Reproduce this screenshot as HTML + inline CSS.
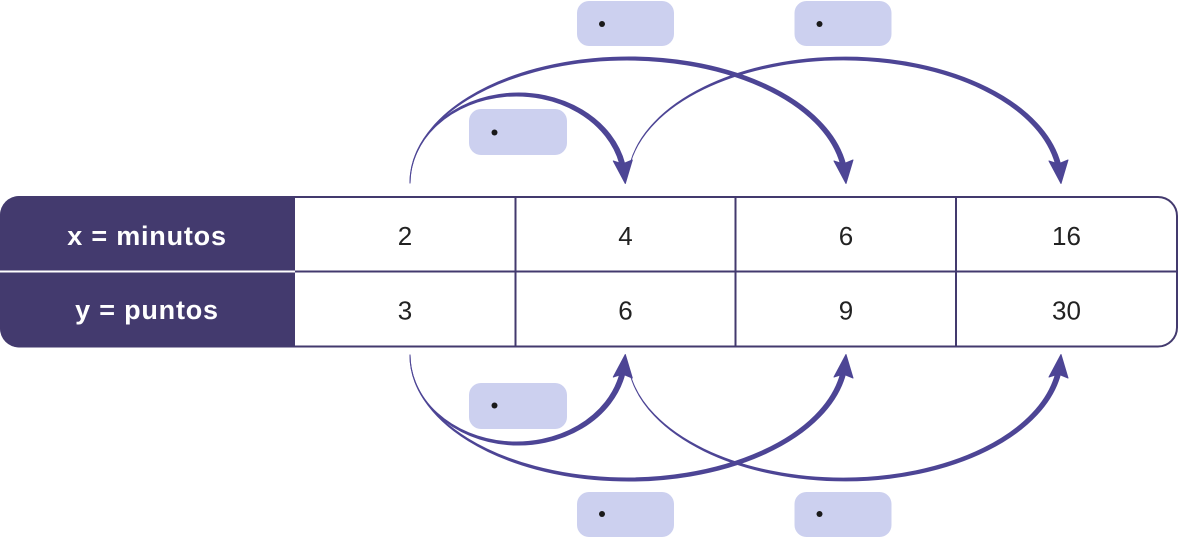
<!DOCTYPE html>
<html>
<head>
<meta charset="utf-8">
<style>
  html,body{margin:0;padding:0;background:#fff;}
  svg{display:block;}
  .hd{font-family:"Liberation Sans",sans-serif;font-weight:bold;font-size:27px;fill:#fff;letter-spacing:0.8px;}
  .num{font-family:"Liberation Sans",sans-serif;font-size:26px;fill:#222;}
</style>
</head>
<body>
<svg width="1178" height="539" viewBox="0 0 1178 539" xmlns="http://www.w3.org/2000/svg">
  <defs>
    <g id="top">
      <!-- label boxes -->
      <rect x="577" y="1" width="97" height="45" rx="12" fill="#ccd0ef"/>
      <rect x="794.5" y="1" width="97" height="45" rx="12" fill="#ccd0ef"/>
      <rect x="469" y="109" width="98" height="46" rx="12" fill="#ccd0ef"/>
      <circle cx="602" cy="24" r="3" fill="#1a1a1a"/>
      <circle cx="819.5" cy="24" r="3" fill="#1a1a1a"/>
      <circle cx="494.5" cy="132.5" r="3" fill="#1a1a1a"/>
      <g fill="#4d4595" stroke="#4d4595" stroke-width="1" stroke-linejoin="round">
        <!-- arrow C (4 -> 16) -->
        <path d="M630.3,163 A217.75,126 0 0 1 1060.5,164 L1055.5,164 A215.29,123 0 0 0 630.3,163 Z"/>
        <path d="M1061,183.5 L1049,161 L1058.3,164 L1068,160 Z"/>
        <!-- arrow B (2 -> 6) -->
        <path d="M410,183 A219,126 0 0 1 845.5,164 L840.5,164 A216.55,123 0 0 0 410,183 Z"/>
        <path d="M846,183.5 L834,161 L843.3,164 L853,160 Z"/>
        <!-- arrow A (2 -> 4) -->
        <path d="M410,183 A108.62,90 0 0 1 624.8,164 L619.8,164 A106.18,87 0 0 0 410,183 Z"/>
        <path d="M625.3,183.5 L613.3,161 L622.6,164 L632.3,160 Z"/>
      </g>
    </g>
  </defs>

  <use href="#top"/>
  <use href="#top" transform="matrix(1 0 0 -1 0 538)"/>

  <!-- table -->
  <rect x="1" y="197" width="1176" height="149.5" rx="19" fill="#fff" stroke="#433a6e" stroke-width="2"/>
  <path d="M295,196 L19,196 A19,19 0 0 0 0,215 L0,328.5 A19,19 0 0 0 19,347.5 L295,347.5 Z" fill="#433a6e"/>
  <line x1="0" y1="271.5" x2="295" y2="271.5" stroke="#fff" stroke-width="2"/>
  <line x1="295" y1="271.5" x2="1177" y2="271.5" stroke="#433a6e" stroke-width="2"/>
  <line x1="515.5" y1="197" x2="515.5" y2="347" stroke="#433a6e" stroke-width="2"/>
  <line x1="735.5" y1="197" x2="735.5" y2="347" stroke="#433a6e" stroke-width="2"/>
  <line x1="956" y1="197" x2="956" y2="347" stroke="#433a6e" stroke-width="2"/>

  <text class="hd" x="147" y="245" text-anchor="middle">x = minutos</text>
  <text class="hd" x="147" y="319" text-anchor="middle">y = puntos</text>

  <text class="num" x="405" y="245" text-anchor="middle">2</text>
  <text class="num" x="625.5" y="245" text-anchor="middle">4</text>
  <text class="num" x="846" y="245" text-anchor="middle">6</text>
  <text class="num" x="1066.5" y="245" text-anchor="middle">16</text>

  <text class="num" x="405" y="319.5" text-anchor="middle">3</text>
  <text class="num" x="625.5" y="319.5" text-anchor="middle">6</text>
  <text class="num" x="846" y="319.5" text-anchor="middle">9</text>
  <text class="num" x="1066.5" y="319.5" text-anchor="middle">30</text>
</svg>
</body>
</html>
